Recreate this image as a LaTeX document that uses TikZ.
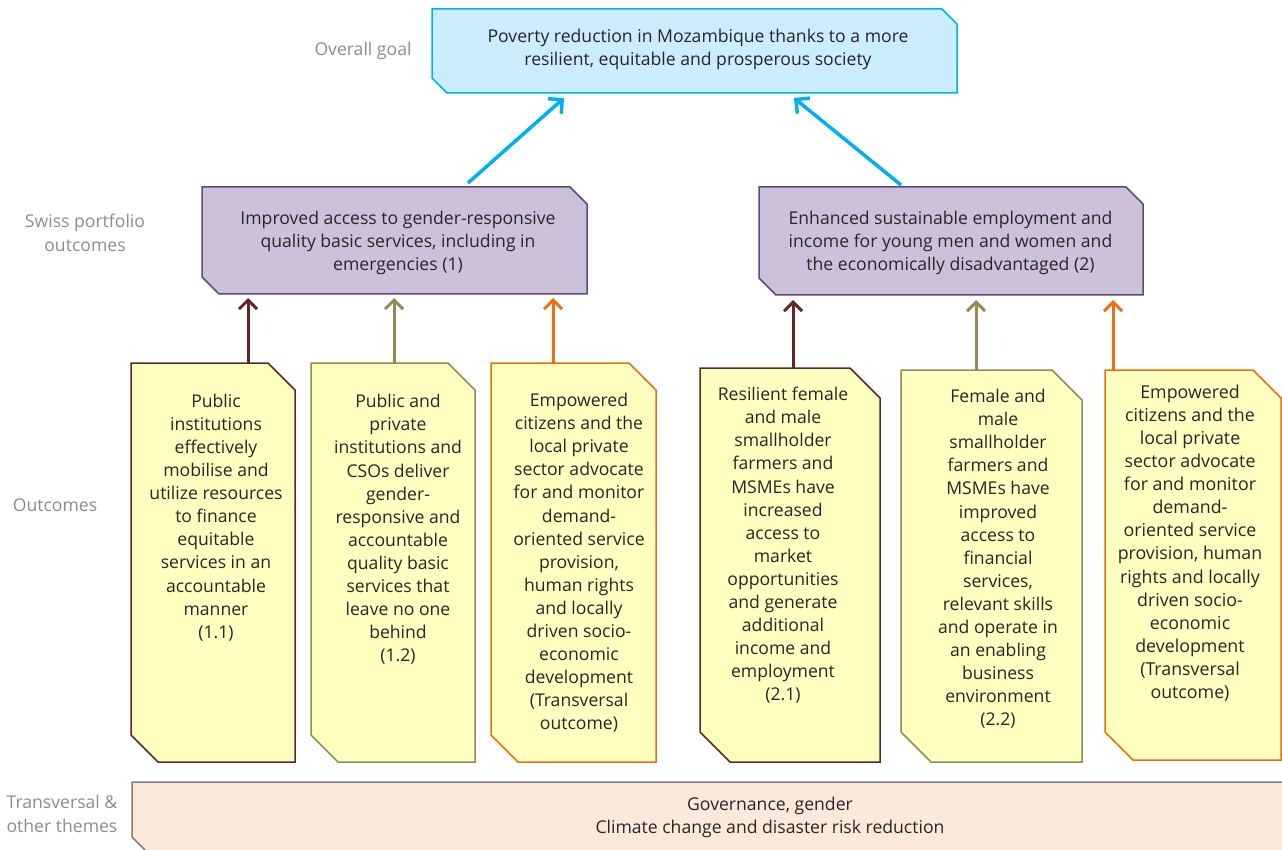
\documentclass[tikz,border=0pt]{standalone}
\usepackage{fontspec}
\setmainfont{Open Sans}
\usetikzlibrary{arrows.meta}
\definecolor{goalfill}{RGB}{204,236,255}
\definecolor{goalline}{RGB}{0,176,240}
\definecolor{purfill}{RGB}{204,193,218}
\definecolor{purline}{RGB}{96,74,123}
\definecolor{yelfill}{RGB}{255,255,192}
\definecolor{brownc}{RGB}{99,37,35}
\definecolor{olivec}{RGB}{148,138,84}
\definecolor{orangec}{RGB}{232,112,16}
\definecolor{tranfill}{RGB}{253,233,217}
\definecolor{tranline}{RGB}{127,127,127}
\definecolor{labc}{RGB}{140,140,140}
\definecolor{txtc}{RGB}{38,38,38}
\newcommand\snipbox[3]{\draw[#3] (#1.north west) -- ([xshift=-#2pt]#1.north east) -- ([yshift=-#2pt]#1.north east) -- (#1.south east) -- ([xshift=#2pt]#1.south west) -- ([yshift=#2pt]#1.south west) -- cycle;}
\tikzset{
  boxarea/.style={draw=none, inner sep=0pt, outer sep=0pt, rectangle},
  txt/.style={align=center, font=\fontsize{17.6}{23.1}\selectfont, text=txtc, inner sep=0pt},
  txtsm/.style={align=center, font=\fontsize{17.8}{23.1}\selectfont, text=txtc, inner sep=0pt},
  lab/.style={align=center, font=\fontsize{17.6}{24}\selectfont, text=labc, inner sep=0pt},
  arr/.style={line width=3pt, -{Straight Barb[length=9pt,width=18pt]}},
  bluearr/.style={line width=3.5pt, draw=goalline, -{Straight Barb[length=10pt,width=20pt]}},
}
\begin{document}
\begin{tikzpicture}[x=1pt,y=-1pt]
\clip (0,0) rectangle (1282,850);
% box areas
\node[boxarea, minimum width=525pt, minimum height=84pt] (goal) at (694.5,51) {};
\node[boxarea, minimum width=385pt, minimum height=107pt] (p1) at (394.5,240.5) {};
\node[boxarea, minimum width=384pt, minimum height=108pt] (p2) at (951,241) {};
\node[boxarea, minimum width=164pt, minimum height=399pt] (b11) at (213,562.5) {};
\node[boxarea, minimum width=164pt, minimum height=399pt] (b12) at (393,562.5) {};
\node[boxarea, minimum width=165pt, minimum height=399pt] (b13) at (573.5,562.5) {};
\node[boxarea, minimum width=180pt, minimum height=394pt] (b21) at (790,565) {};
\node[boxarea, minimum width=181pt, minimum height=392pt] (b22) at (991.5,566) {};
\node[boxarea, minimum width=176pt, minimum height=390pt] (b23) at (1193,565) {};
\node[boxarea, minimum width=1276pt, minimum height=70pt] (tr) at (770,817) {};
% shapes
\snipbox{goal}{15}{fill=goalfill, draw=goalline, line width=1.5pt}
\snipbox{p1}{17}{fill=purfill, draw=purline, line width=1.5pt}
\snipbox{p2}{17}{fill=purfill, draw=purline, line width=1.5pt}
\snipbox{b11}{27}{fill=yelfill, draw=brownc, line width=1.5pt}
\snipbox{b12}{27}{fill=yelfill, draw=olivec, line width=1.5pt}
\snipbox{b13}{27}{fill=yelfill, draw=orangec, line width=1.5pt}
\snipbox{b21}{30}{fill=yelfill, draw=brownc, line width=1.5pt}
\snipbox{b22}{30}{fill=yelfill, draw=olivec, line width=1.5pt}
\snipbox{b23}{28}{fill=yelfill, draw=orangec, line width=1.5pt}
\snipbox{tr}{15}{fill=tranfill, draw=tranline, line width=1.5pt}
% texts
\node[txt] (goaltxt) at (698,49) {Poverty reduction in Mozambique thanks to a more\\resilient, equitable and prosperous society};
\node[txt] (p1txt) at (398,243) {Improved access to gender-responsive\\quality basic services, including in\\emergencies (1)};
\node[txt] (p2txt) at (950.5,243) {Enhanced sustainable employment and\\income for young men and women and\\the economically disadvantaged (2)};
\node[txt] (b11txt) at (216,517.5) {Public\\institutions\\effectively\\mobilise and\\utilize resources\\to finance\\equitable\\services in an\\accountable\\manner\\(1.1)};
\node[txt] (b12txt) at (398,529.5) {Public and\\private\\institutions and\\CSOs deliver\\gender-\\responsive and\\accountable\\quality basic\\services that\\leave no one\\behind\\(1.2)};
\node[txt] (b13txt) at (579,563) {Empowered\\citizens and the\\local private\\sector advocate\\for and monitor\\demand-\\oriented service\\provision,\\human rights\\and locally\\driven socio-\\economic\\development\\(Transversal\\outcome)};
\node[txt] (b21txt) at (783,545.5) {Resilient female\\and male\\smallholder\\farmers and\\MSMEs have\\increased\\access to\\market\\opportunities\\and generate\\additional\\income and\\employment\\(2.1)};
\node[txt] (b22txt) at (998,559) {Female and\\male\\smallholder\\farmers and\\MSMEs have\\improved\\access to\\financial\\services,\\relevant skills\\and operate in\\an enabling\\business\\environment\\(2.2)};
\node[txtsm] (b23txt) at (1190,543) {Empowered\\citizens and the\\local private\\sector advocate\\for and monitor\\demand-\\oriented service\\provision, human\\rights and locally\\driven socio-\\economic\\development\\(Transversal\\outcome)};
\node[txt] (trtxt) at (770,817) {Governance, gender\\Climate change and disaster risk reduction};
% side labels
\node[lab] (lgoal) at (363,51) {Overall goal};
\node[lab] (lport) at (85,233) {Swiss portfolio\\outcomes};
\node[lab] (lout) at (55,505) {Outcomes};
\node[lab] (ltr) at (62,814) {Transversal \&\\other themes};
% arrow anchor coordinates
\coordinate (a11) at ([xshift=35pt]b11.north);
\coordinate (a12) at ([xshift=1pt]b12.north);
\coordinate (a13) at ([xshift=-20.5pt]b13.north);
\coordinate (a21) at ([xshift=3pt]b21.north);
\coordinate (a22) at ([xshift=-15.5pt]b22.north);
\coordinate (a23) at ([xshift=-80pt]b23.north);
\draw[arr, draw=brownc, shorten >=4pt] (a11) -- (a11 |- p1.south);
\draw[arr, draw=olivec, shorten >=4pt] (a12) -- (a12 |- p1.south);
\draw[arr, draw=orangec, shorten >=4pt] (a13) -- (a13 |- p1.south);
\draw[arr, draw=brownc, shorten >=5pt] (a21) -- (a21 |- p2.south);
\draw[arr, draw=olivec, shorten >=5pt] (a22) -- (a22 |- p2.south);
\draw[arr, draw=orangec, shorten >=5pt] (a23) -- (a23 |- p2.south);
% blue arrows
\coordinate (t1) at ([xshift=73.5pt,yshift=4pt]p1.north);
\coordinate (h1) at ([xshift=-130.5pt,yshift=-5pt]goal.south);
\coordinate (t2) at ([xshift=-50pt,yshift=2pt]p2.north);
\coordinate (h2) at ([xshift=99.5pt,yshift=-5pt]goal.south);
\draw[bluearr] (t1) -- (h1);
\draw[bluearr] (t2) -- (h2);
\end{tikzpicture}
\end{document}
